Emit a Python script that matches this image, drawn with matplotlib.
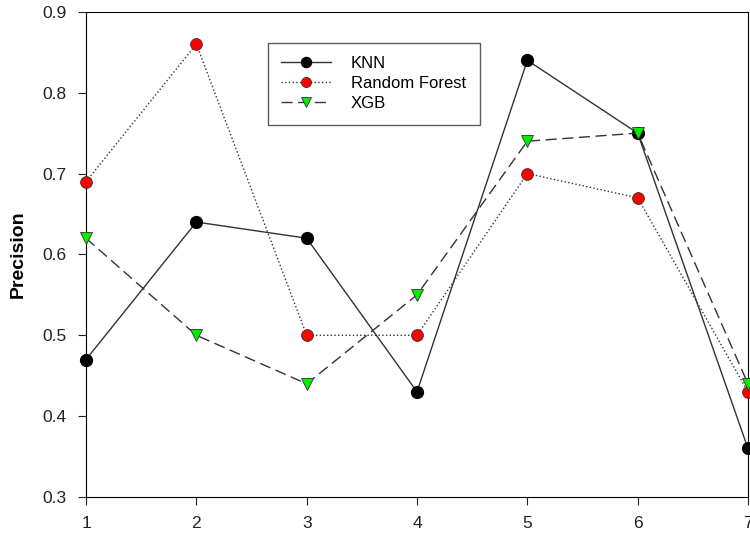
import numpy as np
import matplotlib.pyplot as plt

plt.rcParams['font.family'] = ['Liberation Sans', 'DejaVu Sans']

x = [1, 2, 3, 4, 5, 6, 7]
knn = [0.47, 0.64, 0.62, 0.43, 0.84, 0.75, 0.36]
rf = [0.69, 0.86, 0.50, 0.50, 0.70, 0.67, 0.43]
xgb = [0.62, 0.50, 0.44, 0.55, 0.74, 0.75, 0.44]
yticks = [0.3, 0.4, 0.5, 0.6, 0.7, 0.8, 0.9]

fig = plt.figure(figsize=(7.5, 5.37), dpi=100)
ax = fig.add_axes([0.1147, 0.0745, 0.8826, 0.9035])

ax.plot(x, knn, '-', color='#333333', lw=1, marker='o', ms=8.5,
        mfc='black', mec='black', label='KNN', clip_on=False, zorder=3)
ax.plot(x, rf, ':', color='#333333', lw=1, marker='o', ms=8.5,
        mfc='red', mec='#333333', mew=0.6, label='Random Forest', clip_on=False, zorder=3)
ax.plot(x, xgb, color='#333333', lw=1, dashes=(8, 4), marker='v', ms=9,
        mfc='#00ee00', mec='#333333', mew=0.6, label='XGB', clip_on=False, zorder=3)

ax.set_xlim(1, 7)
ax.set_ylim(0.3, 0.9)
ax.set_xticks(x)
ax.set_yticks(yticks)
ax.set_yticklabels(['%.1f' % v for v in yticks])
ax.tick_params(direction='out', length=6, labelsize=12.5, colors='#222222', pad=8)
ax.set_ylabel('Precision', fontsize=14, fontweight='bold', labelpad=11)

leg = ax.legend(loc='upper left', bbox_to_anchor=(0.262, 0.953), fontsize=12,
                fancybox=False, edgecolor='#333333', borderpad=0.8,
                handlelength=3, handletextpad=1.2, labelspacing=0.3,
                markerscale=0.85)
leg.get_frame().set_linewidth(1)

fig.savefig('out.png', dpi=100)
